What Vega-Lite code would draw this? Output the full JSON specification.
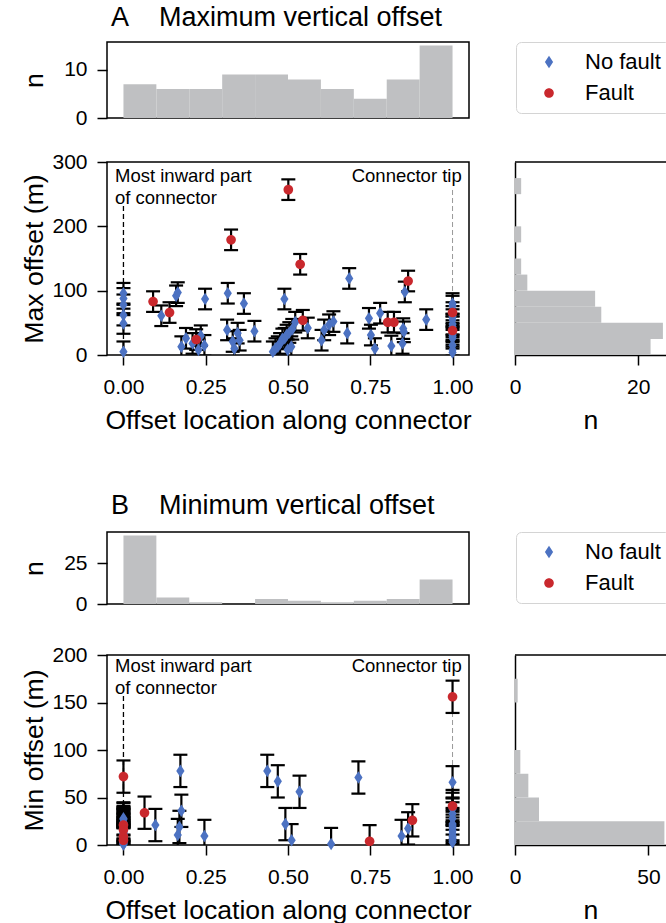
{
"$schema": "https://vega.github.io/schema/vega-lite/v6.json",
"autosize": {"type": "none"},
"padding": {"left": 107, "top": 42, "right": 559, "bottom": 881},
"background": "#ffffff",
"config": {
 "font": "Liberation Sans",
 "view": {"stroke": "#000", "strokeWidth": 1.5},
 "axis": {"domain": false, "grid": false, "tickColor": "#000", "tickWidth": 1.5, "tickSize": 10, "labelFontSize": 21, "labelColor": "#000", "titleFontSize": 26.6, "titleFontWeight": "normal", "titleColor": "#000", "domainColor": "#000", "domainWidth": 1.5, "minExtent": 0, "labelFlush": false, "labelOverlap": false, "titleBaseline": "alphabetic"},
 "axisX": {"labelPadding": 11, "titleY": 73},
 "axisY": {"labelPadding": 10, "titleX": -65},
 "legend": {"labelFontSize": 22, "labelColor": "#000", "title": null, "orient": "none", "strokeColor": "#d4d4d4", "fillColor": "#fff", "cornerRadius": 5, "padding": 9, "rowPadding": 9, "symbolOffset": 13, "labelOffset": 25, "symbolSize": 160}
},
"datasets": {
 "topA": [{"lo":0,"hi":0.1,"n":7},{"lo":0.1,"hi":0.2,"n":6},{"lo":0.2,"hi":0.3,"n":6},{"lo":0.3,"hi":0.4,"n":9},{"lo":0.4,"hi":0.5,"n":9},{"lo":0.5,"hi":0.6,"n":8},{"lo":0.6,"hi":0.7,"n":6},{"lo":0.7,"hi":0.8,"n":4},{"lo":0.8,"hi":0.9,"n":8},{"lo":0.9,"hi":1.0,"n":15}],
 "rightA": [{"lo":0,"hi":25,"n":22},{"lo":25,"hi":50,"n":24},{"lo":50,"hi":75,"n":14},{"lo":75,"hi":100,"n":13},{"lo":100,"hi":125,"n":2},{"lo":125,"hi":150,"n":1},{"lo":175,"hi":200,"n":1},{"lo":250,"hi":275,"n":1}],
 "topB": [{"lo":0,"hi":0.1,"n":42},{"lo":0.1,"hi":0.2,"n":4},{"lo":0.2,"hi":0.3,"n":1},{"lo":0.4,"hi":0.5,"n":3},{"lo":0.5,"hi":0.6,"n":2},{"lo":0.6,"hi":0.7,"n":1},{"lo":0.7,"hi":0.8,"n":2},{"lo":0.8,"hi":0.9,"n":3},{"lo":0.9,"hi":1.0,"n":15}],
 "rightB": [{"lo":0,"hi":25,"n":56},{"lo":25,"hi":50,"n":9},{"lo":50,"hi":75,"n":5},{"lo":75,"hi":100,"n":2},{"lo":150,"hi":175,"n":1}],
 "ptsA": [
  {"x":0,"y":96,"e":16,"f":"No fault"},{"x":0,"y":88,"e":16,"f":"No fault"},{"x":0,"y":78,"e":16,"f":"No fault"},{"x":0,"y":62,"e":16,"f":"No fault"},{"x":0,"y":49,"e":16,"f":"No fault"},{"x":0,"y":5,"e":16,"f":"No fault"},
  {"x":0.115,"y":61,"e":16,"f":"No fault"},{"x":0.16,"y":92,"e":16,"f":"No fault"},{"x":0.165,"y":97,"e":16,"f":"No fault"},{"x":0.176,"y":13,"e":16,"f":"No fault"},{"x":0.19,"y":26,"e":16,"f":"No fault"},
  {"x":0.246,"y":15,"e":16,"f":"No fault"},{"x":0.248,"y":87,"e":16,"f":"No fault"},{"x":0.21,"y":18,"e":16,"f":"No fault"},{"x":0.228,"y":8,"e":16,"f":"No fault"},{"x":0.235,"y":30,"e":16,"f":"No fault"},
  {"x":0.317,"y":96,"e":16,"f":"No fault"},{"x":0.366,"y":80,"e":16,"f":"No fault"},{"x":0.315,"y":39,"e":16,"f":"No fault"},{"x":0.332,"y":21,"e":16,"f":"No fault"},{"x":0.347,"y":34,"e":16,"f":"No fault"},{"x":0.353,"y":23,"e":16,"f":"No fault"},{"x":0.337,"y":10,"e":16,"f":"No fault"},{"x":0.398,"y":37,"e":16,"f":"No fault"},
  {"x":0.454,"y":5,"e":16,"f":"No fault"},{"x":0.462,"y":10,"e":16,"f":"No fault"},{"x":0.469,"y":13,"e":16,"f":"No fault"},{"x":0.476,"y":18,"e":16,"f":"No fault"},{"x":0.483,"y":25,"e":16,"f":"No fault"},{"x":0.489,"y":87,"e":16,"f":"No fault"},{"x":0.49,"y":26,"e":16,"f":"No fault"},{"x":0.496,"y":31,"e":16,"f":"No fault"},{"x":0.499,"y":8,"e":16,"f":"No fault"},
  {"x":0.504,"y":35,"e":16,"f":"No fault"},{"x":0.51,"y":13,"e":16,"f":"No fault"},{"x":0.513,"y":40,"e":16,"f":"No fault"},{"x":0.522,"y":51,"e":16,"f":"No fault"},{"x":0.56,"y":42,"e":16,"f":"No fault"},
  {"x":0.602,"y":23,"e":16,"f":"No fault"},{"x":0.61,"y":39,"e":16,"f":"No fault"},{"x":0.625,"y":47,"e":16,"f":"No fault"},{"x":0.638,"y":52,"e":16,"f":"No fault"},{"x":0.68,"y":34,"e":16,"f":"No fault"},{"x":0.686,"y":119,"e":16,"f":"No fault"},
  {"x":0.746,"y":57,"e":16,"f":"No fault"},{"x":0.752,"y":31,"e":16,"f":"No fault"},{"x":0.764,"y":10,"e":16,"f":"No fault"},{"x":0.78,"y":65,"e":16,"f":"No fault"},
  {"x":0.814,"y":14,"e":16,"f":"No fault"},{"x":0.85,"y":41,"e":16,"f":"No fault"},{"x":0.852,"y":36,"e":16,"f":"No fault"},{"x":0.848,"y":18,"e":16,"f":"No fault"},{"x":0.855,"y":98,"e":16,"f":"No fault"},
  {"x":0.92,"y":55,"e":16,"f":"No fault"},{"x":1,"y":80,"e":16,"f":"No fault"},{"x":1,"y":76,"e":16,"f":"No fault"},{"x":1,"y":60,"e":16,"f":"No fault"},{"x":1,"y":55,"e":16,"f":"No fault"},{"x":1,"y":48,"e":16,"f":"No fault"},{"x":1,"y":44,"e":16,"f":"No fault"},{"x":1,"y":32,"e":16,"f":"No fault"},{"x":1,"y":29,"e":16,"f":"No fault"},{"x":1,"y":26,"e":16,"f":"No fault"},{"x":1,"y":15,"e":16,"f":"No fault"},{"x":1,"y":8,"e":16,"f":"No fault"},{"x":1,"y":4,"e":16,"f":"No fault"},
  {"x":0.09,"y":83,"e":16,"f":"Fault"},{"x":0.14,"y":66,"e":16,"f":"Fault"},{"x":0.221,"y":24,"e":16,"f":"Fault"},{"x":0.327,"y":179,"e":16,"f":"Fault"},{"x":0.501,"y":257,"e":16,"f":"Fault"},{"x":0.537,"y":141,"e":16,"f":"Fault"},{"x":0.545,"y":54,"e":16,"f":"Fault"},{"x":0.803,"y":51,"e":16,"f":"Fault"},{"x":0.822,"y":51,"e":16,"f":"Fault"},{"x":0.865,"y":115,"e":16,"f":"Fault"},{"x":1,"y":66,"e":16,"f":"Fault"},{"x":1,"y":38,"e":16,"f":"Fault"}
 ],
 "ptsB": [
  {"x":0,"y":0.5,"e":17,"f":"No fault"},{"x":0,"y":1,"e":17,"f":"No fault"},{"x":0,"y":1.5,"e":17,"f":"No fault"},{"x":0,"y":2,"e":17,"f":"No fault"},{"x":0,"y":2.5,"e":17,"f":"No fault"},{"x":0,"y":3,"e":17,"f":"No fault"},{"x":0,"y":3.5,"e":17,"f":"No fault"},{"x":0,"y":4,"e":17,"f":"No fault"},{"x":0,"y":4.5,"e":17,"f":"No fault"},{"x":0,"y":5,"e":17,"f":"No fault"},{"x":0,"y":6,"e":17,"f":"No fault"},{"x":0,"y":6.5,"e":17,"f":"No fault"},{"x":0,"y":7,"e":17,"f":"No fault"},{"x":0,"y":7.5,"e":17,"f":"No fault"},{"x":0,"y":8,"e":17,"f":"No fault"},{"x":0,"y":9,"e":17,"f":"No fault"},{"x":0,"y":10,"e":17,"f":"No fault"},{"x":0,"y":10.5,"e":17,"f":"No fault"},{"x":0,"y":11,"e":17,"f":"No fault"},{"x":0,"y":12,"e":17,"f":"No fault"},{"x":0,"y":12.5,"e":17,"f":"No fault"},{"x":0,"y":13,"e":17,"f":"No fault"},{"x":0,"y":14,"e":17,"f":"No fault"},{"x":0,"y":15,"e":17,"f":"No fault"},{"x":0,"y":16,"e":17,"f":"No fault"},{"x":0,"y":17,"e":17,"f":"No fault"},{"x":0,"y":18,"e":17,"f":"No fault"},{"x":0,"y":19,"e":17,"f":"No fault"},{"x":0,"y":20,"e":17,"f":"No fault"},{"x":0,"y":21,"e":17,"f":"No fault"},{"x":0,"y":22,"e":17,"f":"No fault"},{"x":0,"y":23,"e":17,"f":"No fault"},{"x":0,"y":24,"e":17,"f":"No fault"},{"x":0,"y":27,"e":17,"f":"No fault"},{"x":0,"y":28,"e":17,"f":"No fault"},
  {"x":0.097,"y":21,"e":17,"f":"No fault"},{"x":0.173,"y":78,"e":17,"f":"No fault"},{"x":0.176,"y":36,"e":17,"f":"No fault"},{"x":0.17,"y":19,"e":17,"f":"No fault"},{"x":0.165,"y":10.5,"e":17,"f":"No fault"},{"x":0.246,"y":9.5,"e":17,"f":"No fault"},{"x":0.437,"y":78,"e":17,"f":"No fault"},{"x":0.469,"y":67,"e":17,"f":"No fault"},{"x":0.492,"y":22,"e":17,"f":"No fault"},{"x":0.511,"y":5,"e":17,"f":"No fault"},{"x":0.535,"y":56,"e":17,"f":"No fault"},{"x":0.631,"y":1,"e":17,"f":"No fault"},{"x":0.714,"y":71,"e":17,"f":"No fault"},{"x":0.845,"y":9.5,"e":17,"f":"No fault"},{"x":0.865,"y":17.5,"e":17,"f":"No fault"},
  {"x":1,"y":66,"e":17,"f":"No fault"},{"x":1,"y":38,"e":17,"f":"No fault"},{"x":1,"y":33,"e":17,"f":"No fault"},{"x":1,"y":28,"e":17,"f":"No fault"},{"x":1,"y":22,"e":17,"f":"No fault"},{"x":1,"y":20,"e":17,"f":"No fault"},{"x":1,"y":18,"e":17,"f":"No fault"},{"x":1,"y":15,"e":17,"f":"No fault"},{"x":1,"y":12,"e":17,"f":"No fault"},{"x":1,"y":9,"e":17,"f":"No fault"},{"x":1,"y":7,"e":17,"f":"No fault"},{"x":1,"y":5,"e":17,"f":"No fault"},{"x":1,"y":3,"e":17,"f":"No fault"},
  {"x":0,"y":72,"e":17,"f":"Fault"},{"x":0,"y":21,"e":17,"f":"Fault"},{"x":0,"y":16,"e":17,"f":"Fault"},{"x":0,"y":9,"e":17,"f":"Fault"},{"x":0,"y":5,"e":17,"f":"Fault"},{"x":0.064,"y":34,"e":17,"f":"Fault"},{"x":0.748,"y":4,"e":17,"f":"Fault"},{"x":0.878,"y":26,"e":17,"f":"Fault"},{"x":1,"y":156,"e":17,"f":"Fault"},{"x":1,"y":41,"e":17,"f":"Fault"}
 ]
},
"columns": 2,
"spacing": {"row": 0, "column": 46},
"bounds": "flush",
"resolve": {"legend": {"color": "independent", "shape": "independent"}},
"concat": [
 {
  "width": 362, "height": 76,
  "title": {"text": "A\u00a0\u00a0\u00a0\u00a0Maximum vertical offset", "anchor": "start", "frame": "group", "fontSize": 27, "fontWeight": "normal", "color": "#000", "offset": -11, "baseline": "alphabetic", "dx": 4},
  "data": {"name": "topA"},
  "mark": {"type": "rect", "color": "#bfc0c2"},
  "encoding": {
   "x": {"field": "lo", "type": "quantitative", "scale": {"domain": [-0.05, 1.05], "nice": false}, "axis": null},
   "x2": {"field": "hi"},
   "y": {"field": "n", "type": "quantitative", "scale": {"domain": [0, 15.75], "nice": false}, "axis": {"values": [0, 10], "title": "n"}},
   "y2": {"datum": 0}
  }
 },
 {"width": 151, "height": 1, "view": {"stroke": null}, "data": {"values": []}, "mark": "point"},
 {"width": 362, "height": 44, "view": {"stroke": null}, "data": {"values": []}, "mark": "point"},
 {"width": 151, "height": 1, "view": {"stroke": null}, "data": {"values": []}, "mark": "point"},
 {
  "width": 362, "height": 193,
  "layer": [
   {"data": {"values": [{"x": 0, "y0": 0, "y1": 234}]}, "mark": {"type": "rule", "color": "#000", "strokeWidth": 1.3, "strokeDash": [5, 3]},
    "encoding": {"x": {"field": "x", "type": "quantitative", "title": "Offset location along connector", "scale": {"domain": [-0.05, 1.05], "nice": false}, "axis": {"values": [0, 0.25, 0.5, 0.75, 1], "format": ".2f"}}, "y": {"field": "y0", "type": "quantitative", "title": "Max offset (m)", "scale": {"domain": [0, 300], "nice": false}, "axis": {"values": [0, 100, 200, 300]}}, "y2": {"field": "y1"}}},
   {"data": {"values": [{"x": 1, "y0": 0, "y1": 257}]}, "mark": {"type": "rule", "color": "#999", "strokeWidth": 1, "strokeDash": [5, 3]},
    "encoding": {"x": {"field": "x", "type": "quantitative", "title": "Offset location along connector"}, "y": {"field": "y0", "type": "quantitative", "title": "Max offset (m)"}, "y2": {"field": "y1"}}},
   {"data": {"name": "ptsA"}, "mark": {"type": "errorbar", "clip": true, "thickness": 2, "size": 14, "color": "#000", "opacity": 1, "rule": {"strokeWidth": 2.2, "color": "#000", "opacity": 1}, "ticks": {"size": 14, "thickness": 2.2, "color": "#000", "opacity": 1}},
    "encoding": {"x": {"field": "x", "type": "quantitative", "title": "Offset location along connector"}, "y": {"field": "y", "type": "quantitative", "title": "Max offset (m)"}, "yError": {"field": "e"}}},
   {"data": {"name": "ptsA"}, "mark": {"type": "point", "filled": true, "opacity": 1, "size": 160, "strokeWidth": 0},
    "encoding": {"x": {"field": "x", "type": "quantitative", "title": "Offset location along connector"}, "y": {"field": "y", "type": "quantitative", "title": "Max offset (m)"},
     "color": {"field": "f", "type": "nominal", "scale": {"domain": ["No fault", "Fault"], "range": ["#4c72c2", "#c9282d"]}, "legend": {"legendX": 409, "legendY": -120}},
     "shape": {"field": "f", "type": "nominal", "scale": {"domain": ["No fault", "Fault"], "range": ["M0,-1L0.65,0L0,1L-0.65,0Z", "M0.76,0A0.76,0.76 0 1,1 -0.76,0A0.76,0.76 0 1,1 0.76,0Z"]}, "legend": {"legendX": 409, "legendY": -120}}}},
   {"data": {"values": [{"x": -0.0257, "y": 269, "t": "Most inward part\nof connector"}]}, "mark": {"type": "text", "align": "left", "baseline": "alphabetic", "fontSize": 18.5, "lineBreak": "\n", "lineHeight": 21.7, "color": "#000"},
    "encoding": {"x": {"field": "x", "type": "quantitative", "title": "Offset location along connector"}, "y": {"field": "y", "type": "quantitative", "title": "Max offset (m)"}, "text": {"field": "t"}}},
   {"data": {"values": [{"x": 1.028, "y": 269, "t": "Connector tip"}]}, "mark": {"type": "text", "align": "right", "baseline": "alphabetic", "fontSize": 18.5, "color": "#000"},
    "encoding": {"x": {"field": "x", "type": "quantitative", "title": "Offset location along connector"}, "y": {"field": "y", "type": "quantitative", "title": "Max offset (m)"}, "text": {"field": "t"}}}
  ]
 },
 {
  "width": 151, "height": 193,
  "view": {"stroke": null},
  "layer": [
   {"data": {"name": "rightA"}, "mark": {"type": "rect", "color": "#bfc0c2", "clip": true},
    "encoding": {
     "y": {"field": "lo", "type": "quantitative", "title": null, "scale": {"domain": [0, 300], "nice": false}, "axis": {"domain": true, "ticks": false, "labels": false}},
     "y2": {"field": "hi"},
     "x": {"field": "n", "type": "quantitative", "title": "n", "scale": {"domain": [0, 24.5], "nice": false}, "axis": {"values": [0, 20], "domain": true}},
     "x2": {"datum": 0}
    }},
   {"data": {"values": [{"top": 300}]}, "mark": {"type": "rule", "color": "#000", "strokeWidth": 1.5}, "encoding": {"y": {"field": "top", "type": "quantitative", "title": null}}}
  ]
 },
 {"width": 362, "height": 177, "view": {"stroke": null}, "data": {"values": []}, "mark": "point"},
 {"width": 151, "height": 1, "view": {"stroke": null}, "data": {"values": []}, "mark": "point"},
 {
  "width": 362, "height": 72,
  "title": {"text": "B\u00a0\u00a0\u00a0\u00a0Minimum vertical offset", "anchor": "start", "frame": "group", "fontSize": 27, "fontWeight": "normal", "color": "#000", "offset": -9, "baseline": "alphabetic", "dx": 4},
  "data": {"name": "topB"},
  "mark": {"type": "rect", "color": "#bfc0c2"},
  "encoding": {
   "x": {"field": "lo", "type": "quantitative", "scale": {"domain": [-0.05, 1.05], "nice": false}, "axis": null},
   "x2": {"field": "hi"},
   "y": {"field": "n", "type": "quantitative", "scale": {"domain": [0, 44.1], "nice": false}, "axis": {"values": [0, 25], "title": "n"}},
   "y2": {"datum": 0}
  }
 },
 {"width": 151, "height": 1, "view": {"stroke": null}, "data": {"values": []}, "mark": "point"},
 {"width": 362, "height": 51, "view": {"stroke": null}, "data": {"values": []}, "mark": "point"},
 {"width": 151, "height": 1, "view": {"stroke": null}, "data": {"values": []}, "mark": "point"},
 {
  "width": 362, "height": 190,
  "layer": [
   {"data": {"values": [{"x": 0, "y0": 0, "y1": 158}]}, "mark": {"type": "rule", "color": "#000", "strokeWidth": 1.3, "strokeDash": [5, 3]},
    "encoding": {"x": {"field": "x", "type": "quantitative", "title": "Offset location along connector", "scale": {"domain": [-0.05, 1.05], "nice": false}, "axis": {"values": [0, 0.25, 0.5, 0.75, 1], "format": ".2f"}}, "y": {"field": "y0", "type": "quantitative", "title": "Min offset (m)", "scale": {"domain": [0, 200], "nice": false}, "axis": {"values": [0, 50, 100, 150, 200]}}, "y2": {"field": "y1"}}},
   {"data": {"values": [{"x": 1, "y0": 0, "y1": 173}]}, "mark": {"type": "rule", "color": "#999", "strokeWidth": 1, "strokeDash": [5, 3]},
    "encoding": {"x": {"field": "x", "type": "quantitative", "title": "Offset location along connector"}, "y": {"field": "y0", "type": "quantitative", "title": "Min offset (m)"}, "y2": {"field": "y1"}}},
   {"data": {"name": "ptsB"}, "mark": {"type": "errorbar", "clip": true, "thickness": 2, "size": 14, "color": "#000", "opacity": 1, "rule": {"strokeWidth": 2.2, "color": "#000", "opacity": 1}, "ticks": {"size": 14, "thickness": 2.2, "color": "#000", "opacity": 1}},
    "encoding": {"x": {"field": "x", "type": "quantitative", "title": "Offset location along connector"}, "y": {"field": "y", "type": "quantitative", "title": "Min offset (m)"}, "yError": {"field": "e"}}},
   {"data": {"name": "ptsB"}, "mark": {"type": "point", "filled": true, "opacity": 1, "size": 160, "strokeWidth": 0},
    "encoding": {"x": {"field": "x", "type": "quantitative", "title": "Offset location along connector"}, "y": {"field": "y", "type": "quantitative", "title": "Min offset (m)"},
     "color": {"field": "f", "type": "nominal", "scale": {"domain": ["No fault", "Fault"], "range": ["#4c72c2", "#c9282d"]}, "legend": {"legendX": 409, "legendY": -123}},
     "shape": {"field": "f", "type": "nominal", "scale": {"domain": ["No fault", "Fault"], "range": ["M0,-1L0.65,0L0,1L-0.65,0Z", "M0.76,0A0.76,0.76 0 1,1 -0.76,0A0.76,0.76 0 1,1 0.76,0Z"]}, "legend": {"legendX": 409, "legendY": -123}}}},
   {"data": {"values": [{"x": -0.0257, "y": 182, "t": "Most inward part\nof connector"}]}, "mark": {"type": "text", "align": "left", "baseline": "alphabetic", "fontSize": 18.5, "lineBreak": "\n", "lineHeight": 21.7, "color": "#000"},
    "encoding": {"x": {"field": "x", "type": "quantitative", "title": "Offset location along connector"}, "y": {"field": "y", "type": "quantitative", "title": "Min offset (m)"}, "text": {"field": "t"}}},
   {"data": {"values": [{"x": 1.028, "y": 182, "t": "Connector tip"}]}, "mark": {"type": "text", "align": "right", "baseline": "alphabetic", "fontSize": 18.5, "color": "#000"},
    "encoding": {"x": {"field": "x", "type": "quantitative", "title": "Offset location along connector"}, "y": {"field": "y", "type": "quantitative", "title": "Min offset (m)"}, "text": {"field": "t"}}}
  ]
 },
 {
  "width": 151, "height": 190,
  "view": {"stroke": null},
  "layer": [
   {"data": {"name": "rightB"}, "mark": {"type": "rect", "color": "#bfc0c2", "clip": true},
    "encoding": {
     "y": {"field": "lo", "type": "quantitative", "title": null, "scale": {"domain": [0, 200], "nice": false}, "axis": {"domain": true, "ticks": false, "labels": false}},
     "y2": {"field": "hi"},
     "x": {"field": "n", "type": "quantitative", "title": "n", "scale": {"domain": [0, 56.6], "nice": false}, "axis": {"values": [0, 50], "domain": true}},
     "x2": {"datum": 0}
    }},
   {"data": {"values": [{"top": 200}]}, "mark": {"type": "rule", "color": "#000", "strokeWidth": 1.5}, "encoding": {"y": {"field": "top", "type": "quantitative", "title": null}}}
  ]
 }
]
}
